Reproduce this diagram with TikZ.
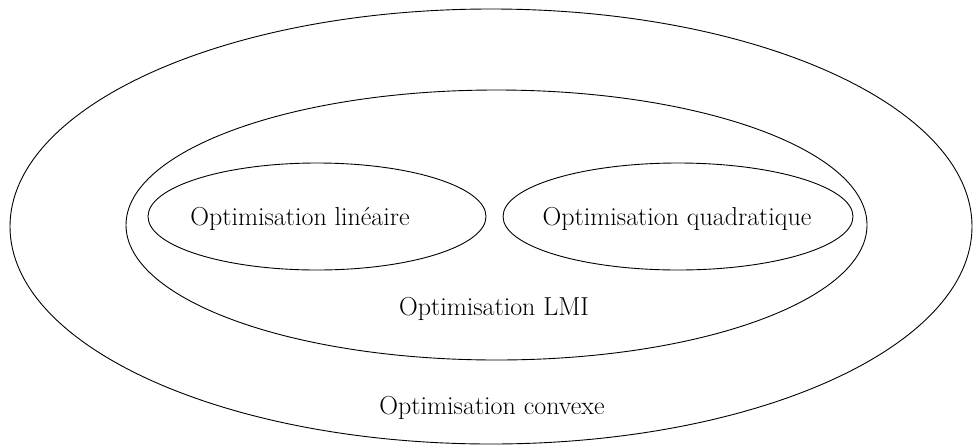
\documentclass[tikz,border=0pt]{standalone}
\begin{document}
\begin{tikzpicture}[x=1pt,y=-1pt,
  ell/.style={draw,line width=0.9pt},
  lbl/.style={font=\fontsize{26}{30}\selectfont,inner sep=0pt,anchor=base}]
\useasboundingbox (0,0) rectangle (973,445);
\draw[ell] (491,226.5) ellipse [x radius=481, y radius=217.5];
\draw[ell] (496.5,225) ellipse [x radius=370.5, y radius=135];
\draw[ell] (317,216.5) ellipse [x radius=169, y radius=53.5];
\draw[ell] (678,216.5) ellipse [x radius=175, y radius=53.5];
\node[lbl] (lin) at (300,225) {Optimisation linéaire};
\node[lbl] (quad) at (677,225) {Optimisation quadratique};
\node[lbl] (lmi) at (494,315) {Optimisation LMI};
\node[lbl] (cvx) at (492,414) {Optimisation convexe};
\end{tikzpicture}
\end{document}
